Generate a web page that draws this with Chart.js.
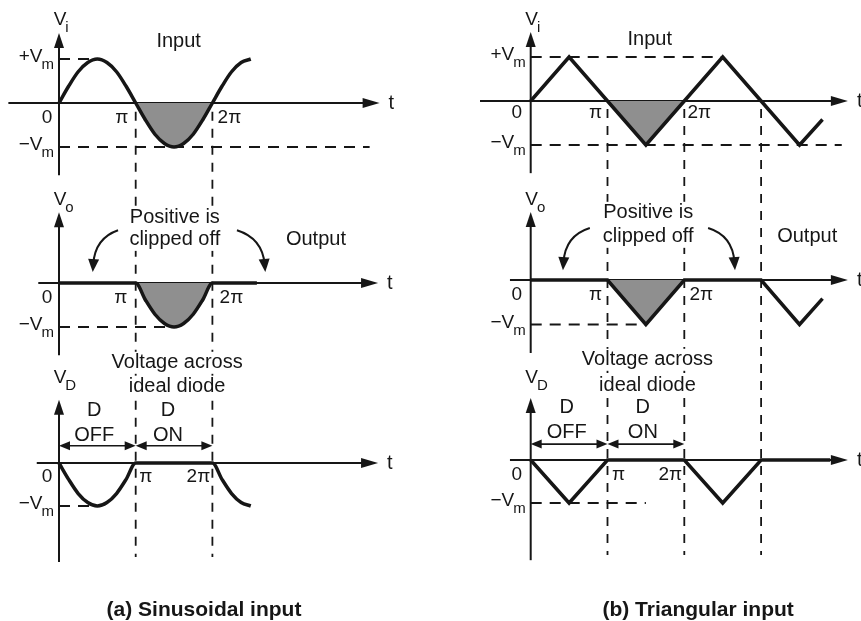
<!DOCTYPE html>
<html>
<head>
<meta charset="utf-8">
<title>Negative clipper waveforms</title>
<script src="https://cdn.jsdelivr.net/npm/chart.js@4.4.1/dist/chart.umd.min.js"></script>
<style>
  body { margin: 0; background: #fff; }
  #wrap { position: relative; width: 861px; height: 621px; background: #fff; }
  #wrap canvas { position: absolute; left: 0; top: 0; }
</style>
</head>
<body>
<div id="wrap">
  <canvas id="a1" width="861" height="621"></canvas>
  <canvas id="a2" width="861" height="621"></canvas>
  <canvas id="a3" width="861" height="621"></canvas>
  <canvas id="b1" width="861" height="621"></canvas>
  <canvas id="b2" width="861" height="621"></canvas>
  <canvas id="b3" width="861" height="621"></canvas>
</div>
<script>
// phase in multiples of pi, amplitude in multiples of Vm
const sineT   = [0, 0.125, 0.25, 0.375, 0.5, 0.625, 0.75, 0.875, 1, 1.125, 1.25, 1.375, 1.5, 1.625, 1.75, 1.875, 2, 2.125, 2.25, 2.375, 2.5];
const sineIn  = [0, 0.38, 0.71, 0.92, 1, 0.92, 0.71, 0.38, 0, -0.38, -0.71, -0.92, -1, -0.92, -0.71, -0.38, 0, 0.38, 0.71, 0.92, 1];
const sineVD  = [0, -0.38, -0.71, -0.92, -1, -0.92, -0.71, -0.38, 0, 0, 0, 0, 0, 0, 0, 0, 0, -0.38, -0.71, -0.92, -1];
const sineOutT = [0, 1, 1.125, 1.25, 1.375, 1.5, 1.625, 1.75, 1.875, 2, 2.58];
const sineOut  = [0, 0, -0.38, -0.71, -0.92, -1, -0.92, -0.71, -0.38, 0, 0];

const triInT  = [0, 0.5, 1, 1.5, 2, 2.5, 3, 3.5, 3.8];
const triIn   = [0, 1, 0, -1, 0, 1, 0, -1, -0.42];
const triOutT = [0, 1, 1.5, 2, 3, 3.5, 3.8];
const triOut  = [0, 0, -1, 0, 0, -1, -0.42];
const triVDT  = [0, 0.5, 1, 2, 2.5, 3, 3.9];
const triVD   = [0, -1, 0, 0, -1, 0, 0];

const tickPhases = [0, 1, 2];
const tickLabels = ['0', 'π', '2π'];
const levelNames = ['+V', '−V'];
const shadeRange = [1, 2];

const W = 861, H = 621;
const INK = '#161616';
const SHADE = '#8f8f8f';
const FONT = "'Liberation Sans', Arial, Helvetica, sans-serif";

const panels = [
  { id: 'a1', x0: 59, xs: 76.7, y0: 103, ys: 44, xr: [-0.66, 4.18], yr: [-1.64, 1.59],
    series: [{ t: sineT, v: sineIn, smooth: true, shade: true }],
    levels: [[1, 0.42], [-1, 4.05]], guides: [1, 2], guideTop: -0.2, guideEnd: 557,
    yName: ['V', 'i'], nameDy: -13, tickDx: [-12, -14, 17], tickDy: 15,
    titles: [{ text: 'Input', x: 1.56, y: 1.39 }] },
  { id: 'a2', x0: 59, xs: 76.7, y0: 283, ys: 44, xr: [-0.27, 4.16], yr: [-1.64, 1.61],
    series: [{ t: sineOutT, v: sineOut, smooth: true, shade: true }],
    levels: [[-1, 1.47]],
    yName: ['V', 'o'], nameDy: -12, tickDx: [-12, -15, 19], tickDy: 15,
    titles: [{ text: 'Positive is', x: 1.51, y: 1.5 }, { text: 'clipped off', x: 1.51, y: 0.98 }, { text: 'Output', x: 3.35, y: 0.98 }],
    bends: [{ from: [0.77, 1.2], ctrl: [0.47, 1.02], to: [0.44, 0.25] }, { from: [2.32, 1.2], ctrl: [2.65, 1.02], to: [2.69, 0.25] }] },
  { id: 'a3', x0: 59, xs: 76.7, y0: 463, ys: 43, xr: [-0.29, 4.16], yr: [-2.3, 1.47],
    series: [{ t: sineT, v: sineVD, smooth: true, shade: false }],
    levels: [[-1, 0.5]],
    yName: ['V', 'D'], nameDy: -22, tickDx: [-12, 10, -14], tickDy: 14,
    titles: [{ text: 'Voltage across', x: 1.54, y: 2.33 }, { text: 'ideal diode', x: 1.54, y: 1.77 },
             { text: 'D', x: 0.46, y: 1.23 }, { text: 'OFF', x: 0.46, y: 0.65 }, { text: 'D', x: 1.42, y: 1.23 }, { text: 'ON', x: 1.42, y: 0.65 }],
    spans: [[0, 1], [1, 2]], spanY: 0.4,
    caption: { text: '(a) Sinusoidal input', x: 1.89, y: -3.42 } },
  { id: 'b1', x0: 530.7, xs: 76.8, y0: 101, ys: 44, xr: [-0.66, 4.13], yr: [-1.64, 1.57],
    series: [{ t: triInT, v: triIn, smooth: false, shade: true }],
    levels: [[1, 2.5], [-1, 4.05]], guides: [1, 2, 3], guideTop: -0.18, guideEnd: 555,
    yName: ['V', 'i'], nameDy: -12, tickDx: [-14, -12, 15], tickDy: 12,
    titles: [{ text: 'Input', x: 1.55, y: 1.39 }] },
  { id: 'b2', x0: 530.7, xs: 76.8, y0: 280, ys: 44.5, xr: [-0.27, 4.13], yr: [-1.64, 1.53],
    series: [{ t: triOutT, v: triOut, smooth: false, shade: true }],
    levels: [[-1, 1.5]],
    yName: ['V', 'o'], nameDy: -12, tickDx: [-14, -12, 17], tickDy: 15,
    titles: [{ text: 'Positive is', x: 1.53, y: 1.51 }, { text: 'clipped off', x: 1.53, y: 0.97 }, { text: 'Output', x: 3.6, y: 0.97 }],
    bends: [{ from: [0.77, 1.17], ctrl: [0.45, 1.0], to: [0.42, 0.22] }, { from: [2.31, 1.17], ctrl: [2.63, 1.0], to: [2.66, 0.22] }] },
  { id: 'b3', x0: 530.7, xs: 76.8, y0: 460, ys: 43, xr: [-0.27, 4.13], yr: [-2.33, 1.44],
    series: [{ t: triVDT, v: triVD, smooth: false, shade: false }],
    levels: [[-1, 1.5]],
    yName: ['V', 'D'], nameDy: -20, tickDx: [-14, 11, -14], tickDy: 15,
    titles: [{ text: 'Voltage across', x: 1.52, y: 2.33 }, { text: 'ideal diode', x: 1.52, y: 1.74 },
             { text: 'D', x: 0.47, y: 1.21 }, { text: 'OFF', x: 0.47, y: 0.65 }, { text: 'D', x: 1.46, y: 1.21 }, { text: 'ON', x: 1.46, y: 0.65 }],
    spans: [[0, 1], [1, 2]], spanY: 0.37,
    caption: { text: '(b) Triangular input', x: 2.18, y: -3.49 } }
];

function pts(t, v) { return t.map((x, i) => ({ x: x, y: v[i] })); }
function band(t, v, a, b) { return pts(t, v).filter(q => q.x >= a && q.x <= b); }

function line(ctx, x1, y1, x2, y2) {
  ctx.beginPath(); ctx.moveTo(x1, y1); ctx.lineTo(x2, y2); ctx.stroke();
}

function head(ctx, x, y, ang, len, half) {
  const c = Math.cos(ang), s = Math.sin(ang);
  const bx = x - len * c, by = y - len * s;
  ctx.beginPath();
  ctx.moveTo(x, y);
  ctx.lineTo(bx - half * s, by + half * c);
  ctx.lineTo(bx + half * s, by - half * c);
  ctx.closePath();
  ctx.fill();
}

// main letter plus subscript; align 'right' ends at x, 'axis' centres the main letter on x
function subText(ctx, x, y, main, sub, align) {
  ctx.font = '19px ' + FONT;
  const w1 = ctx.measureText(main).width;
  ctx.font = '15px ' + FONT;
  const w2 = ctx.measureText(sub).width;
  let left = x;
  if (align === 'right') left = x - w1 - w2;
  if (align === 'axis') left = x - w1 / 2;
  ctx.textAlign = 'left';
  ctx.textBaseline = 'middle';
  ctx.font = '19px ' + FONT;
  ctx.fillText(main, left, y);
  ctx.font = '15px ' + FONT;
  ctx.fillText(sub, left + w1 - 1, y + 8);
}

function panelPlugin(p) {
  return {
    id: 'panel_' + p.id,
    beforeDatasetsDraw(chart) {
      const ctx = chart.ctx, xs = chart.scales.x, ys = chart.scales.y;
      const X = v => xs.getPixelForValue(v), Y = v => ys.getPixelForValue(v);
      ctx.save();
      ctx.strokeStyle = INK;
      ctx.fillStyle = INK;
      ctx.lineWidth = 1.8;
      if (p.guides) {
        ctx.setLineDash([9, 8]);
        p.guides.forEach(g => line(ctx, X(g), Y(p.guideTop), X(g), p.guideEnd));
      }
      ctx.setLineDash([11, 8]);
      p.levels.forEach(l => line(ctx, X(0), Y(l[0]), X(l[1]), Y(l[0])));
      ctx.setLineDash([]);
      ctx.lineWidth = 2;
      line(ctx, X(xs.min), Y(0), X(xs.max) - 12, Y(0));
      head(ctx, X(xs.max), Y(0), 0, 17, 5);
      line(ctx, X(0), Y(ys.min), X(0), Y(ys.max) + 10);
      head(ctx, X(0), Y(ys.max), -Math.PI / 2, 15, 5);
      ctx.restore();
    },
    afterDatasetsDraw(chart) {
      const ctx = chart.ctx, xs = chart.scales.x, ys = chart.scales.y;
      const X = v => xs.getPixelForValue(v), Y = v => ys.getPixelForValue(v);
      ctx.save();
      ctx.fillStyle = INK;
      ctx.strokeStyle = INK;
      ctx.textBaseline = 'middle';

      ctx.font = '19px ' + FONT;
      ctx.textAlign = 'center';
      tickPhases.forEach((ph, i) => ctx.fillText(tickLabels[i], X(ph) + p.tickDx[i], Y(0) + p.tickDy));

      p.levels.forEach(l => subText(ctx, X(0) - 4, Y(l[0]) - 2, l[0] > 0 ? levelNames[0] : levelNames[1], 'm', 'right'));
      subText(ctx, X(0) + 1, Y(ys.max) + p.nameDy, p.yName[0], p.yName[1], 'axis');

      ctx.font = '20px ' + FONT;
      ctx.textAlign = 'left';
      ctx.fillText('t', X(xs.max) + 9, Y(0));

      ctx.textAlign = 'center';
      p.titles.forEach(tt => {
        const w = ctx.measureText(tt.text).width;
        ctx.fillStyle = '#fff';
        ctx.fillRect(X(tt.x) - w / 2 - 2, Y(tt.y) - 11, w + 4, 22);
        ctx.fillStyle = INK;
        ctx.fillText(tt.text, X(tt.x), Y(tt.y));
      });

      ctx.lineWidth = 2;
      (p.bends || []).forEach(b => {
        const fx = X(b.from[0]), fy = Y(b.from[1]);
        const cx = X(b.ctrl[0]), cy = Y(b.ctrl[1]);
        const tx = X(b.to[0]), ty = Y(b.to[1]);
        const ang = Math.atan2(ty - cy, tx - cx);
        ctx.beginPath();
        ctx.moveTo(fx, fy);
        ctx.quadraticCurveTo(cx, cy, tx - 8 * Math.cos(ang), ty - 8 * Math.sin(ang));
        ctx.stroke();
        head(ctx, tx, ty, ang, 13, 5.5);
      });

      ctx.lineWidth = 1.6;
      (p.spans || []).forEach(s => {
        const yy = Y(p.spanY);
        line(ctx, X(s[0]) + 6, yy, X(s[1]) - 6, yy);
        head(ctx, X(s[0]), yy, Math.PI, 11, 4.5);
        head(ctx, X(s[1]), yy, 0, 11, 4.5);
      });

      if (p.caption) {
        ctx.font = 'bold 21px ' + FONT;
        ctx.textAlign = 'center';
        ctx.fillText(p.caption.text, X(p.caption.x), Y(p.caption.y));
      }
      ctx.restore();
    }
  };
}

panels.forEach(p => {
  const datasets = [];
  p.series.forEach(s => {
    const mode = s.smooth ? 'monotone' : 'default';
    datasets.push({
      data: pts(s.t, s.v), borderColor: INK, borderWidth: 3.5, pointRadius: 0,
      fill: false, tension: s.smooth ? 0.4 : 0, cubicInterpolationMode: mode,
      borderJoinStyle: 'miter', clip: false, order: 0
    });
    if (s.shade) {
      datasets.push({
        data: band(s.t, s.v, shadeRange[0], shadeRange[1]), borderColor: 'transparent', borderWidth: 0,
        backgroundColor: SHADE, pointRadius: 0, fill: 'origin',
        tension: s.smooth ? 0.4 : 0, cubicInterpolationMode: mode, clip: false, order: 1
      });
    }
  });

  const left = p.x0 + p.xr[0] * p.xs, right = p.x0 + p.xr[1] * p.xs;
  const top = p.y0 - p.yr[1] * p.ys, bottom = p.y0 - p.yr[0] * p.ys;

  new Chart(document.getElementById(p.id), {
    type: 'line',
    data: { datasets: datasets },
    options: {
      responsive: false,
      animation: false,
      events: [],
      layout: { padding: { left: left, top: top, right: W - right, bottom: H - bottom } },
      scales: {
        x: { type: 'linear', display: false, min: p.xr[0], max: p.xr[1] },
        y: { type: 'linear', display: false, min: p.yr[0], max: p.yr[1] }
      },
      plugins: {
        legend: { display: false },
        tooltip: { enabled: false },
        title: { display: false }
      }
    },
    plugins: [panelPlugin(p)]
  });
});
</script>
</body>
</html>
